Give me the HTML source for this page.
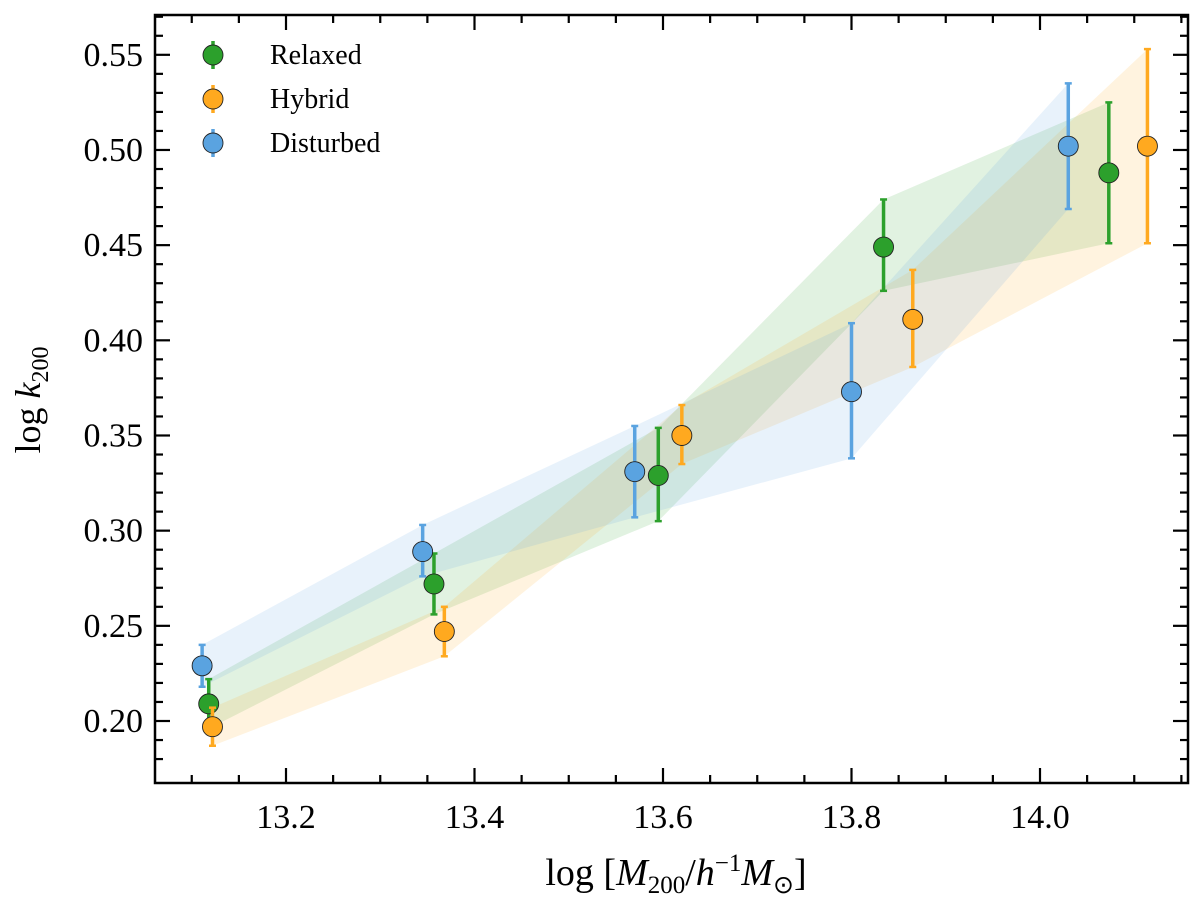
<!DOCTYPE html>
<html><head><meta charset="utf-8"><style>
body{margin:0;background:#fff}
svg text{font-family:"Liberation Serif",serif;fill:#000}
</style></head><body>
<svg id="chart" width="1200" height="907" viewBox="0 0 1200 907" xmlns="http://www.w3.org/2000/svg">
<g id="bands"></g>
<g id="axes"></g>
<g id="marks"></g>
<g id="legend"></g>
<text x="40" y="400" font-size="36" text-anchor="middle" transform="rotate(-90 40 400)">log <tspan font-style="italic">k</tspan><tspan font-size="24" dy="8">200</tspan></text>
<text x="676" y="885" font-size="38" text-anchor="middle">log [<tspan font-style="italic">M</tspan><tspan font-size="25" dy="8">200</tspan><tspan dy="-8">/</tspan><tspan font-style="italic">h</tspan><tspan font-size="25" dy="-14">−1</tspan><tspan font-style="italic" dy="14">M</tspan><tspan font-size="25" dy="8">⊙</tspan><tspan dy="-8">]</tspan></text>
</svg>
<script>
const seriesNames=["Relaxed","Hybrid","Disturbed"];
const colors=["#2ca02c","#ffa91f","#5aa3e0"];
const relaxedX=[13.118,13.357,13.595,13.834,14.073];
const relaxedY=[0.209,0.272,0.329,0.449,0.488];
const relaxedLo=[0.196,0.256,0.305,0.426,0.451];
const relaxedHi=[0.222,0.288,0.354,0.474,0.525];
const hybridX=[13.122,13.368,13.620,13.865,14.114];
const hybridY=[0.197,0.247,0.350,0.411,0.502];
const hybridLo=[0.187,0.234,0.335,0.386,0.451];
const hybridHi=[0.207,0.260,0.366,0.437,0.553];
const disturbedX=[13.111,13.345,13.570,13.800,14.030];
const disturbedY=[0.229,0.289,0.331,0.373,0.502];
const disturbedLo=[0.218,0.276,0.307,0.338,0.469];
const disturbedHi=[0.240,0.303,0.355,0.409,0.535];
const xTicks=["13.2","13.4","13.6","13.8","14.0"];
const yTicks=["0.20","0.25","0.30","0.35","0.40","0.45","0.50","0.55"];
const L=155,R=1188,T=15,B=783;
const sx=v=>286+(v-13.2)*942.5;
const sy=v=>721-(v-0.2)*1903.4;
const NS="http://www.w3.org/2000/svg";
function mk(tag,attrs,parent){const e=document.createElementNS(NS,tag);for(const k in attrs)e.setAttribute(k,attrs[k]);parent.appendChild(e);return e;}
const axes=document.getElementById('axes');
const frame=mk('rect',{x:L,y:T,width:R-L,height:B-T,fill:'none',stroke:'#000','stroke-width':2.5},axes);


for(let i=0;i<=30;i++){const v=13.0+i*0.05;const x=sx(v);if(x<L||x>R)continue;
 const major=i%4===0;
 const len=major?15:8;
 mk('line',{x1:x,x2:x,y1:B,y2:B-len,stroke:'#000','stroke-width':2.2},axes);
 mk('line',{x1:x,x2:x,y1:T,y2:T+len,stroke:'#000','stroke-width':2.2},axes);}
xTicks.forEach(t=>{const el=mk('text',{x:sx(+t),y:B+45,'font-size':34,'text-anchor':'middle'},axes);el.textContent=t;
 
 });
for(let i=0;i<=40;i++){const v=0.18+i*0.01;const y=sy(v);if(y<T||y>B)continue;
 const major=i%5===2;const len=major?15:8;
 mk('line',{x1:L,x2:L+len,y1:y,y2:y,stroke:'#000','stroke-width':2.2},axes);
 mk('line',{x1:R,x2:R-len,y1:y,y2:y,stroke:'#000','stroke-width':2.2},axes);}
yTicks.forEach(t=>{const el=mk('text',{x:L-12,y:sy(+t)+11,'font-size':34,'text-anchor':'end'},axes);el.textContent=t;
 
 });
const series=[[relaxedX,relaxedY,relaxedLo,relaxedHi],[hybridX,hybridY,hybridLo,hybridHi],[disturbedX,disturbedY,disturbedLo,disturbedHi]];
const bands=document.getElementById('bands'),marks=document.getElementById('marks');
series.forEach((s,k)=>{const [X,Y,Lo,Hi]=s;
 const pts=X.map((x,i)=>sx(x)+','+sy(Hi[i])).concat(X.map((x,i)=>sx(x)+','+sy(Lo[i])).reverse());
 const p=mk('polygon',{points:pts.join(' '),fill:colors[k],'fill-opacity':0.14},bands);
 
 
 X.forEach((x,i)=>{const cx=sx(x);
  mk('line',{x1:cx,x2:cx,y1:sy(Lo[i]),y2:sy(Hi[i]),stroke:colors[k],'stroke-width':3.5},marks);
  mk('line',{x1:cx-3.5,x2:cx+3.5,y1:sy(Lo[i]),y2:sy(Lo[i]),stroke:colors[k],'stroke-width':2.5},marks);
  mk('line',{x1:cx-3.5,x2:cx+3.5,y1:sy(Hi[i]),y2:sy(Hi[i]),stroke:colors[k],'stroke-width':2.5},marks);
  const c=mk('circle',{cx:cx,cy:sy(Y[i]),r:10,fill:colors[k],stroke:'#222','stroke-width':0.9},marks);
  
  });});
const lg=document.getElementById('legend');
seriesNames.forEach((n,k)=>{const y=55+k*44;
 mk('line',{x1:213,x2:213,y1:y-14,y2:y+14,stroke:colors[k],'stroke-width':3.5},lg);
 mk('circle',{cx:213,cy:y,r:10,fill:colors[k],stroke:'#222','stroke-width':0.9},lg);
 const t=mk('text',{x:270,y:y+9,'font-size':28},lg);t.textContent=n;
 
 });
</script>
</body></html>
